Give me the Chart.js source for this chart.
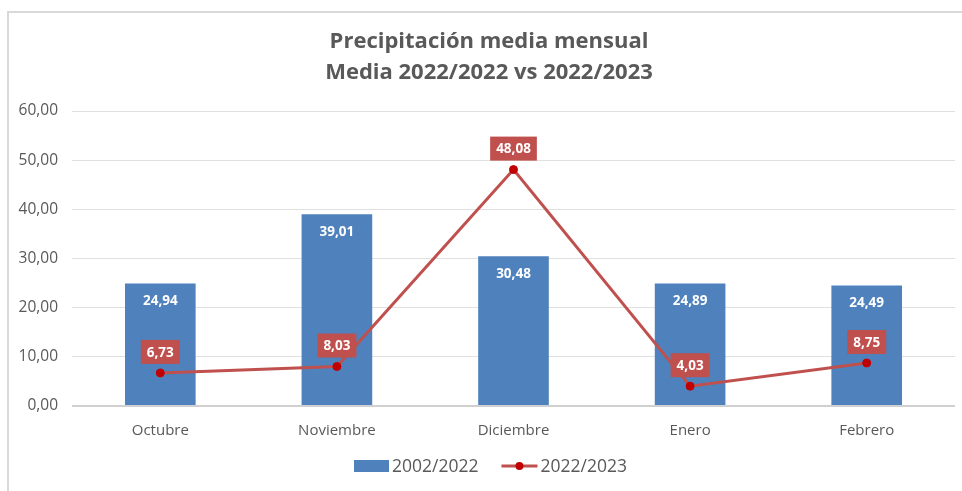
<!DOCTYPE html>
<html>
<head>
<meta charset="utf-8">
<script src="https://cdn.jsdelivr.net/npm/chart.js@4/dist/chart.umd.min.js"></script>
<style>
html,body{margin:0;padding:0;background:#fff;}
#wrap{width:962px;height:491px;position:relative;}
</style>
</head>
<body>
<div id="wrap"><canvas id="c" width="962" height="491"></canvas></div>
<script>
const categories = ["Octubre", "Noviembre", "Diciembre", "Enero", "Febrero"];
const seriesBars = [24.94, 39.01, 30.48, 24.89, 24.49];
const seriesLine = [6.73, 8.03, 48.08, 4.03, 8.75];
const seriesNames = ["2002/2022", "2022/2023"];
const titleLines = ["Precipitación media mensual", "Media 2022/2022 vs 2022/2023"];
const yTicks = [0, 10, 20, 30, 40, 50, 60];

const FONT = "Open Sans, Noto Sans, Liberation Sans, sans-serif";
const fmt = v => v.toFixed(2).replace('.', ',');

const labelsPlugin = {
  id: 'labelsPlugin',
  afterDatasetsDraw(chart) {
    const ctx = chart.ctx;
    ctx.save();
    ctx.font = "bold 13.5px " + FONT;
    ctx.textAlign = 'center';
    ctx.textBaseline = 'middle';
    // bar labels (dataset index 1)
    chart.getDatasetMeta(1).data.forEach((el, i) => {
      ctx.fillStyle = '#ffffff';
      ctx.fillText(fmt(seriesBars[i]), el.x, el.y + 18);
    });
    // line labels (dataset index 0)
    chart.getDatasetMeta(0).data.forEach((el, i) => {
      const t = fmt(seriesLine[i]);
      const w = ctx.measureText(t).width + 12;
      const h = 24;
      const cy = el.y - 21;
      ctx.fillStyle = '#C0504D';
      ctx.fillRect(el.x - w / 2, cy - h / 2, w, h);
      ctx.fillStyle = '#ffffff';
      ctx.fillText(t, el.x, cy + 1);
    });
    ctx.restore();
  }
};

const framePlugin = {
  id: 'framePlugin',
  afterDraw(chart) {
    const ctx = chart.ctx;
    ctx.save();
    // outer frame
    ctx.strokeStyle = '#d9d9d9';
    ctx.lineWidth = 2;
    ctx.beginPath();
    ctx.moveTo(964, 12);
    ctx.lineTo(8, 12);
    ctx.lineTo(8, 495);
    ctx.stroke();
    // title
    ctx.fillStyle = '#595959';
    ctx.textAlign = 'center';
    ctx.textBaseline = 'middle';
    ctx.font = "bold 22px " + FONT;
    ctx.fillText(titleLines[0], 489, 42);
    ctx.fillText(titleLines[1], 489, 73);
    // legend
    const y = 466;
    ctx.font = "17.5px " + FONT;
    ctx.textBaseline = 'middle';
    ctx.textAlign = 'left';
    const w1 = ctx.measureText(seriesNames[0]).width;
    let x = 354;
    ctx.fillStyle = '#4F81BD';
    ctx.fillRect(x, y - 6, 35, 12);
    x += 38;
    ctx.fillStyle = '#595959';
    ctx.fillText(seriesNames[0], x, y + 1);
    x += w1 + 23;
    ctx.strokeStyle = '#C0504D';
    ctx.lineWidth = 3;
    ctx.beginPath();
    ctx.moveTo(x, y);
    ctx.lineTo(x + 36, y);
    ctx.stroke();
    ctx.fillStyle = '#C00000';
    ctx.beginPath();
    ctx.arc(x + 18, y, 4, 0, Math.PI * 2);
    ctx.fill();
    x += 39;
    ctx.fillStyle = '#595959';
    ctx.fillText(seriesNames[1], x, y + 1);
    ctx.restore();
  }
};

new Chart(document.getElementById('c'), {
  data: {
    labels: categories,
    datasets: [
      {
        type: 'line',
        label: seriesNames[1],
        data: seriesLine,
        borderColor: '#C0504D',
        backgroundColor: '#C00000',
        borderWidth: 3,
        pointRadius: 4,
        pointBackgroundColor: '#C00000',
        pointBorderColor: '#C00000',
        pointBorderWidth: 1,
        tension: 0,
        order: 0
      },
      {
        type: 'bar',
        label: seriesNames[0],
        data: seriesBars,
        backgroundColor: '#4F81BD',
        borderColor: '#4F81BD',
        borderWidth: 0,
        categoryPercentage: 1,
        barPercentage: 0.4,
        order: 1
      }
    ]
  },
  options: {
    responsive: false,
    animation: false,
    devicePixelRatio: 1,
    layout: { padding: { top: 111, left: 0, right: 7, bottom: 45 } },
    plugins: {
      legend: { display: false },
      tooltip: { enabled: false },
      title: { display: false }
    },
    scales: {
      x: {
        grid: { display: false, drawTicks: false },
        border: { display: false },
        ticks: { color: '#595959', font: { family: FONT, size: 15 }, padding: 16 },
        afterFit(s) { s.height = 40; }
      },
      y: {
        min: 0, max: 60,
        afterBuildTicks(s) { s.ticks = yTicks.map(v => ({ value: v })); },
        grid: { color: ctx => ctx.tick && ctx.tick.value === 0 ? '#d0d0d0' : '#e0e0e0', lineWidth: ctx => ctx.tick && ctx.tick.value === 0 ? 2 : 1, drawTicks: false },
        border: { display: false },
        ticks: { color: '#595959', font: { family: FONT, size: 15.5 }, padding: 14, callback: v => fmt(v) },
        afterFit(s) { s.width = 72; }
      }
    }
  },
  plugins: [labelsPlugin, framePlugin]
});
</script>
</body>
</html>
